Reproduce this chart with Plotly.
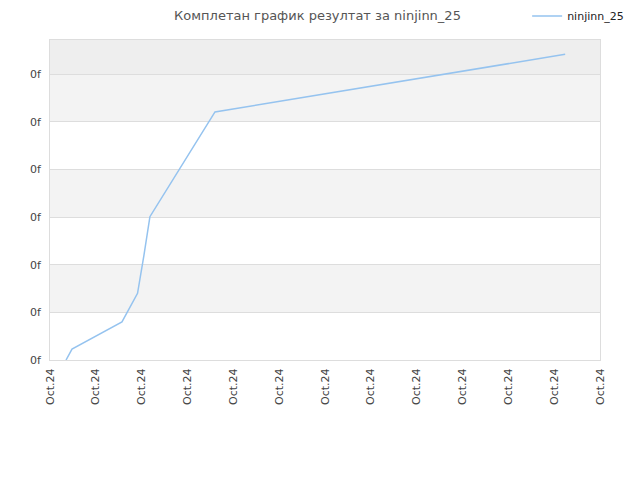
import plotly.graph_objects as go

# data (x in tick intervals, y in grid units)
x_vals = [0.35, 0.48, 1.57, 1.91, 2.05, 2.18, 3.60, 11.24]
y_vals = [0.0, 0.23, 0.80, 1.40, 2.20, 3.01, 5.21, 6.42]
series_name = "ninjinn_25"

x_ticks = list(range(13))
x_labels = ["Oct.24"] * len(x_ticks)
y_ticks = list(range(7))
y_labels = ["0f"] * len(y_ticks)

fig = go.Figure()
fig.add_trace(go.Scatter(
    x=x_vals, y=y_vals, mode="lines", name=series_name,
    line=dict(color="#95c3ef", width=1.5),
))

# alternating background bands
y_top = 6.72
for i in range(1, 6, 2):
    fig.add_shape(type="rect", xref="paper", yref="y", x0=0, x1=1, y0=i, y1=i + 1,
                  fillcolor="#f3f3f3", line_width=0, layer="below")
fig.add_shape(type="rect", xref="paper", yref="y", x0=0, x1=1, y0=6, y1=y_top,
              fillcolor="#eeeeee", line_width=0, layer="below")

# page body has an 8px margin, so the figure is a bit smaller and shifted
fig.update_layout(
    width=624, height=464,
    margin=dict(l=42, r=32, t=32, b=112, autoexpand=False),
    paper_bgcolor="white", plot_bgcolor="white",
    font=dict(family="DejaVu Sans", size=11, color="#444444"),
    title=dict(text="Комплетан график резултат за ninjinn_25", x=0.496, xref="container",
               y=1, yanchor="top", pad=dict(t=3),
               font=dict(size=13, color="#555555")),
    showlegend=True,
    legend=dict(x=1.053, y=1.075, xanchor="right", yanchor="middle",
                font=dict(size=11, color="#222222"), bgcolor="rgba(0,0,0,0)"),
)
fig.update_xaxes(range=[0, 12], tickvals=x_ticks, ticktext=x_labels, tickangle=-90,
                 showgrid=False, zeroline=False, showline=True, linecolor="#dddddd",
                 mirror=True, ticks="", fixedrange=True, automargin=False,
                 ticklabelstandoff=3)
fig.update_yaxes(range=[0, y_top], tickvals=y_ticks, ticktext=y_labels,
                 showgrid=True, gridcolor="#dddddd", zeroline=False, showline=True,
                 linecolor="#dddddd", mirror=True, ticks="", fixedrange=True,
                 automargin=False, ticklabelstandoff=6)

fig.write_html("out.html")
